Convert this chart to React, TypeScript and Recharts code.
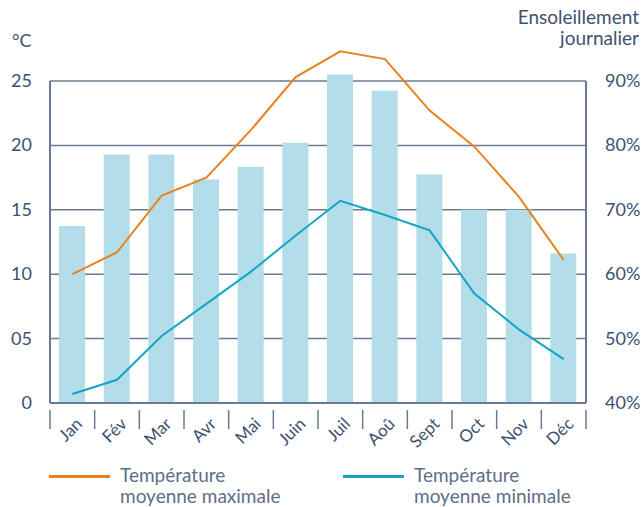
import React from "react";
import {
  ComposedChart,
  Bar,
  Line,
  XAxis,
  YAxis,
  CartesianGrid,
} from "recharts";

const months = ["Jan", "Fév", "Mar", "Avr", "Mai", "Juin", "Juil", "Aoû", "Sept", "Oct", "Nov", "Déc"];
const sunshine = [67.5, 78.6, 78.6, 74.7, 76.7, 80.4, 91.0, 88.5, 75.5, 70, 70, 63.2];
const tempMax = [10.0, 11.7, 16.1, 17.5, 21.2, 25.3, 27.3, 26.7, 22.7, 19.9, 16.0, 11.1];
const tempMin = [0.7, 1.8, 5.2, 7.7, 10.2, 13.0, 15.7, 14.6, 13.4, 8.5, 5.7, 3.4];
const tempTicks = [0, 5, 10, 15, 20, 25];
const sunTicks = [40, 50, 60, 70, 80, 90];

const data = months.map((m, i) => ({
  month: m,
  sun: sunshine[i],
  max: tempMax[i],
  min: tempMin[i],
}));

const W = 642;
const H = 507;
const LEFT = 50;
const RIGHT_W = 56;
const MARGIN_TOP = 30; // room above the frame so the lines may overflow it
const FRAME_TOP = 81; // y of the 25 °C / 90 % line
const ZERO_Y = 403;
const XAXIS_H = 60;
const BOTTOM = H - ZERO_Y - XAXIS_H;
const BAND = (W - LEFT - RIGHT_W) / months.length;
const STRETCH = (ZERO_Y - MARGIN_TOP) / (ZERO_Y - FRAME_TOP);
const tempDomain = [0, tempTicks[tempTicks.length - 1] * STRETCH];
const sunDomain = [sunTicks[0], sunTicks[0] + (sunTicks[sunTicks.length - 1] - sunTicks[0]) * STRETCH];

const AXIS = "#6a7a94";
const TEXT = "#3e5170";
const LEGEND_TEXT = "#5e6e86";
const ORANGE = "#e8821f";
const CYAN = "#12a6c4";
const BAR = "#b3dde9";
const FONT = "Lato, 'Open Sans', sans-serif";

const MonthTick = (props: any) => {
  const { x, y, payload, index } = props;
  const last = index === months.length - 1;
  return (
    <g>
      <line x1={x - BAND / 2} x2={x - BAND / 2} y1={y + 7} y2={y + 26} stroke={AXIS} strokeWidth={1.5} />
      {last && (
        <line x1={x + BAND / 2} x2={x + BAND / 2} y1={y + 7} y2={y + 26} stroke={AXIS} strokeWidth={1.5} />
      )}
      <text
        x={x + 11}
        y={y + 22}
        transform={`rotate(-45 ${x + 11} ${y + 22})`}
        textAnchor="end"
        fill={TEXT}
        fontSize={17}
        fontFamily={FONT}
      >
        {payload.value}
      </text>
    </g>
  );
};

// value tick that also draws the framed part of the axis (0 up to the top tick)
const makeSideTick = (side: "left" | "right", fmt: (v: number) => string) => (props: any) => {
  const { x, y, payload, index } = props;
  const axisX = side === "left" ? LEFT : W - RIGHT_W;
  return (
    <g>
      {index === 0 && (
        <line x1={axisX} x2={axisX} y1={ZERO_Y} y2={FRAME_TOP} stroke={AXIS} strokeWidth={2} />
      )}
      <text
        x={x}
        y={y}
        dy={6}
        textAnchor={side === "left" ? "end" : "start"}
        fill={TEXT}
        fontSize={18}
        fontFamily={FONT}
      >
        {fmt(payload.value)}
      </text>
    </g>
  );
};

const TempTick = makeSideTick("left", (v) => (v === 0 ? "0" : String(v).padStart(2, "0")));
const SunTick = makeSideTick("right", (v) => `${v}%`);

// grid rows at the temperature ticks only (no extra line at the top of the plot)
const gridRows = ({ yAxis, offset }: any) =>
  tempTicks.slice(1).map((t) =>
    yAxis && typeof yAxis.scale === "function"
      ? yAxis.scale(t)
      : offset.top + offset.height * (1 - t / tempDomain[1])
  );

const legendItems = [
  { color: ORANGE, lines: ["Température", "moyenne maximale"], x: 49 },
  { color: CYAN, lines: ["Température", "moyenne minimale"], x: 343 },
];

export default function App() {
  const textStyle = { position: "absolute" as const, fontSize: 19, color: TEXT, lineHeight: "20px", whiteSpace: "nowrap" as const };
  return (
    <div style={{ position: "absolute", left: 0, top: 0, width: W, height: H, background: "#fff", fontFamily: FONT }}>
      <div style={{ ...textStyle, left: 12, top: 30, fontSize: 18 }}>°C</div>
      <div style={{ ...textStyle, right: 3, top: 7 }}>Ensoleillement</div>
      <div style={{ ...textStyle, right: 3, top: 28 }}>journalier</div>
      <ComposedChart
        width={W}
        height={H}
        data={data}
        margin={{ top: MARGIN_TOP, right: 0, left: 0, bottom: BOTTOM }}
        barCategoryGap={0}
      >
        <CartesianGrid
          vertical={false}
          yAxisId="temp"
          stroke={AXIS}
          strokeWidth={1.5}
          horizontalCoordinatesGenerator={gridRows}
        />
        <Bar yAxisId="sun" dataKey="sun" fill={BAR} barSize={26} isAnimationActive={false} />
        <XAxis
          dataKey="month"
          height={XAXIS_H}
          axisLine={{ stroke: AXIS, strokeWidth: 2 }}
          tickLine={false}
          tickSize={0}
          tickMargin={0}
          interval={0}
          tick={<MonthTick />}
        />
        <YAxis
          yAxisId="temp"
          orientation="left"
          width={LEFT}
          domain={tempDomain}
          ticks={tempTicks}
          axisLine={false}
          tickLine={false}
          tickSize={8}
          tickMargin={10}
          tick={<TempTick />}
        />
        <YAxis
          yAxisId="sun"
          orientation="right"
          width={RIGHT_W}
          domain={sunDomain}
          ticks={sunTicks}
          axisLine={false}
          tickLine={false}
          tickSize={8}
          tickMargin={11}
          tick={<SunTick />}
        />
        <Line yAxisId="temp" type="linear" dataKey="max" stroke={ORANGE} strokeWidth={2} dot={false} isAnimationActive={false} />
        <Line yAxisId="temp" type="linear" dataKey="min" stroke={CYAN} strokeWidth={2} dot={false} isAnimationActive={false} />
      </ComposedChart>
      {legendItems.map((item) => (
        <div key={item.x} style={{ position: "absolute", left: item.x, top: 465 }}>
          <div style={{ position: "absolute", left: 0, top: 10, width: 61, height: 3, background: item.color }} />
          <div style={{ ...textStyle, left: 71, top: 0, color: LEGEND_TEXT }}>{item.lines[0]}</div>
          <div style={{ ...textStyle, left: 71, top: 21, color: LEGEND_TEXT }}>{item.lines[1]}</div>
        </div>
      ))}
    </div>
  );
}
